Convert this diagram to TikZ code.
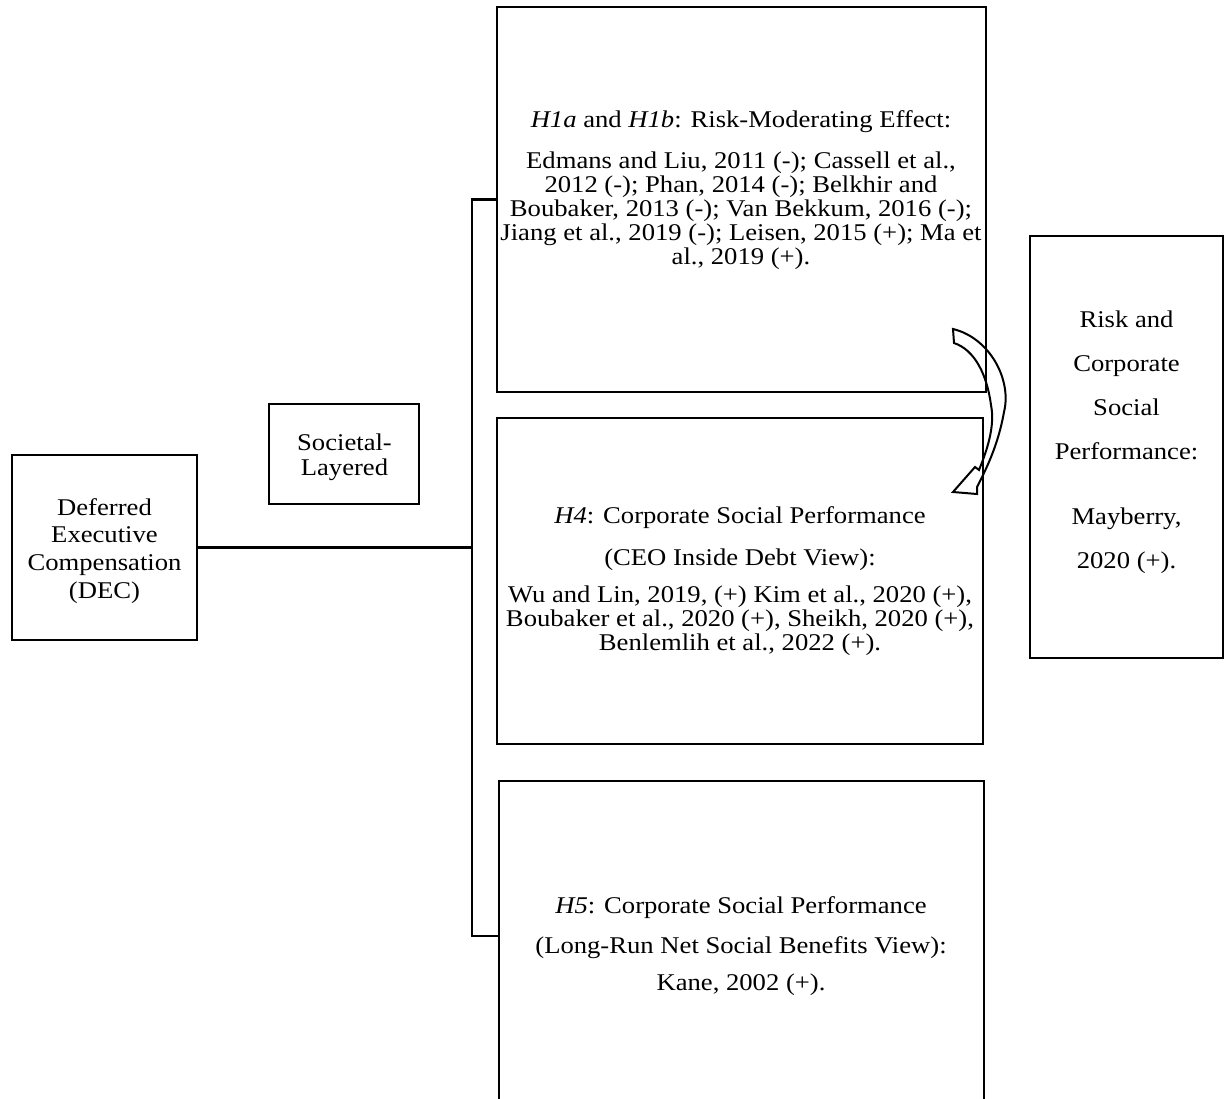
\documentclass[tikz,border=0pt]{standalone}
\usepackage{fontspec}
\setmainfont{Liberation Serif}[FakeStretch=1.11]
\newcommand\boxtext[1]{\begin{tabular}[t]{@{}c@{}}#1\end{tabular}}
\tikzset{
  frame/.style={draw, line width=2.3pt, inner sep=0pt, outer sep=0pt},
  txt/.style={anchor=base, inner sep=0pt, outer sep=0pt, font=\fontsize{24}{24}\selectfont},
  wire/.style={line width=2.3pt},
}
\begin{document}
\begin{tikzpicture}[x=1pt, y=-1pt]
  \useasboundingbox (0,0) rectangle (1229,1098);
  \fill[white] (0,0) rectangle (1229,1098);
  \clip (0,0) rectangle (1229,1098);

  % boxes
  \node[frame, minimum width=185pt, minimum height=185pt] (dec) at (104.5,547.5) {};
  \node[frame, minimum width=150pt, minimum height=100pt] (soc) at (344,454) {};
  \node[frame, minimum width=489pt, minimum height=385pt] (h1) at (741.5,199.5) {};
  \node[frame, minimum width=486pt, minimum height=326pt] (h4) at (740,581) {};
  \node[frame, minimum width=485pt, minimum height=330pt] (h5) at (741.5,946) {};
  \node[frame, minimum width=193pt, minimum height=422pt] (rcsp) at (1126.5,447) {};

  % texts
  \node[txt] (dect) at (104.5,515) {\boxtext{Deferred\\[3.7pt] Executive\\[3.7pt] Compensation\\[3.7pt] (DEC)}};
  \node[txt] (soct) at (344.5,450) {\boxtext{Societal-\\[1pt] Layered}};
  \node[txt] (h1t) at (741,127) {\boxtext{\textit{H1a} and \textit{H1b}: Risk-Moderating Effect:\\[17pt]
    Edmans and Liu, 2011 (-); Cassell et al.,\\
    2012 (-); Phan, 2014 (-); Belkhir and\\
    Boubaker, 2013 (-); Van Bekkum, 2016 (-);\\
    Jiang et al., 2019 (-); Leisen, 2015 (+); Ma et\\
    al., 2019 (+).}};
  \node[txt] (h4t) at (740,523) {\boxtext{\textit{H4}: Corporate Social Performance\\[18pt]
    (CEO Inside Debt View):\\[13pt]
    Wu and Lin, 2019, (+) Kim et al., 2020 (+),\\
    Boubaker et al., 2020 (+), Sheikh, 2020 (+),\\
    Benlemlih et al., 2022 (+).}};
  \node[txt] (h5t) at (741,913) {\boxtext{\textit{H5}: Corporate Social Performance\\[16pt]
    (Long-Run Net Social Benefits View):\\[13pt]
    Kane, 2002 (+).}};
  \node[txt] (rcspt) at (1126.5,327) {\boxtext{Risk and\\[20pt] Corporate\\[20pt] Social\\[20pt] Performance:\\[41pt] Mayberry,\\[20pt] 2020 (+).}};

  % connectors: DEC to the spine, spine to the hypothesis boxes
  \coordinate (spinetop) at (472,199.5);
  \coordinate (spinebot) at (472,936);
  \draw[wire] (dec.east) -- (dec.east -| spinetop);
  \draw[wire] (h1.west) -- (spinetop) -- (spinebot) -- (spinebot -| h5.west);

  % curved block arrow between the H1 and H4 boxes
  \draw[line width=2pt, line join=miter]
    (953,329) .. controls (990,338) and (1012,380) .. (1004,412)
    .. controls (999,440) and (990,462) .. (977,487)
    -- (977,494) -- (953,492) -- (975,467) -- (979,470)
    .. controls (988,448) and (995,425) .. (991,405)
    .. controls (987,375) and (975,350) .. (954,343) -- cycle;
\end{tikzpicture}
\end{document}
